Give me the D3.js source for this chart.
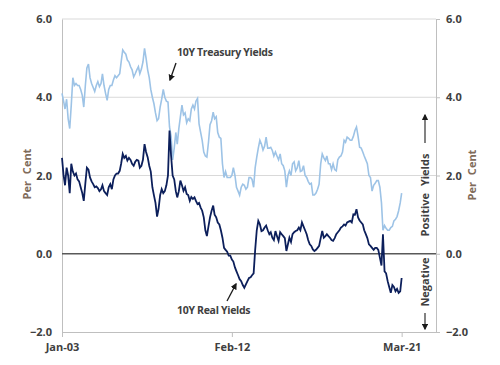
<!DOCTYPE html>
<html>
<head>
<meta charset="utf-8">
<script src="https://cdn.jsdelivr.net/npm/d3@7"></script>
<style>
  body { margin: 0; background: #fff; }
  text { font-family: "Open Sans", "DejaVu Sans", sans-serif; }
</style>
</head>
<body>
<div class="graph"></div>
<script>
// monthly readings, Jan 2003 .. Mar 2021
var startMonth = "2003-01";
var treasury = [
  4.1, 3.9, 3.7, 3.95, 3.45, 3.2, 3.8, 4.5, 4.3, 4.35, 4.3, 4.3,
  4.2, 4.05, 3.75, 4.3, 4.75, 4.85, 4.5, 4.35, 4.25, 4.15, 4.3, 4.4,
  4.27, 4.35, 4.6, 4.3, 4.1, 3.92, 4.2, 4.3, 4.3, 4.44, 4.55, 4.5,
  4.55, 4.6, 4.9, 5.21, 5.15, 5.1, 4.95, 4.9, 4.78, 4.7, 4.52, 4.6,
  4.7, 4.78, 4.6, 4.72, 4.9, 5.25, 5.0, 4.7, 4.5, 4.2, 4.0, 3.84,
  3.6, 3.4, 3.45, 3.75, 3.95, 4.2, 4.0, 3.9, 3.88, 3.24, 3.0, 2.4,
  2.7, 3.1, 2.8, 3.2, 3.5, 3.8, 3.55, 3.6, 3.35, 3.45, 3.4, 3.7,
  3.8, 3.7, 3.9, 3.97, 3.32, 3.1, 2.9, 2.6, 2.5, 2.47, 2.85, 3.3,
  3.4, 3.62, 3.45, 3.5, 3.1, 2.98, 2.95, 2.3, 1.95, 2.1, 1.95, 1.95,
  1.95, 2.0, 2.2, 2.0, 1.7, 1.6, 1.5, 1.7, 1.78, 1.75, 1.65, 1.7,
  1.95, 1.95, 1.9, 1.7, 2.2, 2.47, 2.7, 2.9, 2.8, 2.65, 2.75, 2.98,
  2.7, 2.7, 2.72, 2.64, 2.5, 2.6, 2.5, 2.4, 2.55, 2.3, 2.25, 2.12,
  1.7, 2.0, 2.12, 2.0, 2.3, 2.35, 2.12, 2.2, 2.38, 2.1, 2.12, 2.25,
  2.0, 1.95, 1.85, 1.78, 1.8, 1.5, 1.5, 1.55, 1.65, 1.78, 2.3, 2.55,
  2.45, 2.38, 2.5, 2.3, 2.3, 2.15, 2.3, 2.15, 2.12, 2.4, 2.47, 2.5,
  2.6, 2.9, 2.85, 2.98, 2.95, 2.9, 2.9, 3.0, 3.15, 3.24, 3.0, 2.72,
  2.7, 2.6, 2.5, 2.4, 2.3, 2.0, 1.95, 1.6, 1.75, 1.8, 1.87, 1.87,
  1.7, 1.3, 0.6, 0.72, 0.65, 0.6, 0.6, 0.67, 0.7, 0.84, 0.88, 0.95,
  1.1, 1.3, 1.55
];
var realYields = [
  2.45, 2.0, 1.75, 2.2, 2.0, 1.55, 2.3, 2.1, 2.0, 2.05, 1.9, 1.85,
  1.7, 1.55, 1.35, 1.8, 2.2, 2.15, 1.95, 1.85, 1.78, 1.7, 1.72, 1.68,
  1.6, 1.65, 1.75, 1.6, 1.55, 1.5, 1.7, 1.78, 1.65, 1.9, 2.0, 2.05,
  2.05, 2.12, 2.3, 2.55, 2.45, 2.5, 2.38, 2.45, 2.4, 2.3, 2.25, 2.35,
  2.4, 2.38, 2.2, 2.25, 2.4, 2.8, 2.6, 2.47, 2.25, 2.1, 1.7, 1.5,
  1.3, 0.95, 1.15, 1.5, 1.65, 1.55, 1.6, 1.75, 2.0, 3.15, 2.5, 2.0,
  1.9, 1.6, 1.44, 1.6, 1.87, 1.75, 1.61, 1.7, 1.53, 1.5, 1.35, 1.45,
  1.4, 1.44, 1.35, 1.27, 1.3, 1.18, 1.1, 0.93, 0.6, 0.45, 0.7, 0.93,
  1.1, 1.23, 1.0, 0.93, 0.8, 0.75, 0.6, 0.41, 0.15, 0.1, 0.05, -0.05,
  -0.05, -0.15, -0.2, -0.35, -0.45, -0.55, -0.65, -0.7, -0.8, -0.87, -0.78, -0.7,
  -0.62, -0.6, -0.55, -0.5, 0.1, 0.6, 0.84, 0.75, 0.58, 0.6, 0.67, 0.72,
  0.6, 0.5, 0.55, 0.41, 0.35, 0.58, 0.45, 0.33, 0.55, 0.5, 0.45, 0.4,
  0.07, 0.25, 0.41, 0.3, 0.5, 0.55, 0.58, 0.6, 0.67, 0.6, 0.8, 0.7,
  0.6, 0.5, 0.35, 0.24, 0.2, 0.11, 0.07, 0.1, 0.15, 0.2, 0.4, 0.58,
  0.41, 0.45, 0.5, 0.45, 0.41, 0.35, 0.33, 0.4, 0.5, 0.55, 0.6, 0.67,
  0.7, 0.75, 0.72, 0.8, 0.82, 0.84, 0.8, 1.01, 1.0, 1.14, 0.93, 0.85,
  0.8, 0.75, 0.6, 0.5, 0.4, 0.24, 0.2, 0.15, 0.1, 0.15, 0.15, 0.1,
  -0.1, -0.3, 0.5, -0.45, -0.5, -0.7, -0.85, -1.0, -0.8, -0.85, -0.96, -0.9,
  -1.0, -0.96, -0.62
];
var yTicks = [-2, 0, 2, 4, 6];
var xTicks = ["2003-01", "2012-02", "2021-03"];

var width = 500;
var height = 365;
var plotLeft = 62, plotRight = 436, plotTop = 19, plotBottom = 332;

var parseMonth = d3.timeParse("%Y-%m");
var start = parseMonth(startMonth);

var x = d3.scaleTime()
  .domain([start, new Date(2023, 0, 1)])
  .range([plotLeft, plotRight]);

var y = d3.scaleLinear()
  .domain([-2, 6])
  .range([plotBottom, plotTop]);

var svg = d3.select(".graph").append("svg")
  .attr("width", width)
  .attr("height", height);

// gridlines
svg.selectAll(".grid")
  .data(yTicks.filter(d => d > 0))
  .enter().append("line")
  .attr("x1", plotLeft).attr("x2", plotRight)
  .attr("y1", d => y(d)).attr("y2", d => y(d))
  .attr("stroke", "#d9d9d9")
  .attr("stroke-width", 1);

// left axis: labels only plus a plain line
var yAxisLeft = d3.axisLeft(y).tickValues(yTicks).tickFormat(d3.format(".1f")).tickSize(0).tickPadding(10);
var gl = svg.append("g").attr("transform", "translate(" + plotLeft + ",0)").call(yAxisLeft);
gl.select(".domain").attr("stroke", "#bfbfbf");

var yAxisRight = d3.axisRight(y).tickValues(yTicks).tickFormat(d3.format(".1f")).tickSizeInner(4).tickSizeOuter(0).tickPadding(6);
var gr = svg.append("g").attr("transform", "translate(" + plotRight + ",0)").call(yAxisRight);
gr.select(".domain").attr("stroke", "#bfbfbf");
gr.selectAll(".tick line").attr("stroke", "#bfbfbf");

var xAxis = d3.axisBottom(x)
  .tickValues(xTicks.map(parseMonth))
  .tickFormat(d3.timeFormat("%b-%y"))
  .tickSizeInner(5).tickSizeOuter(0).tickPadding(6);
var gx = svg.append("g").attr("transform", "translate(0," + plotBottom + ")").call(xAxis);
gx.select(".domain").attr("stroke", "#bfbfbf");
gx.selectAll(".tick line").attr("stroke", "#bfbfbf");

svg.selectAll(".tick text")
  .attr("fill", "#404040")
  .attr("font-size", "11px")
  .attr("font-weight", "bold")
  .style("font-family", "'Open Sans', sans-serif");

// zero line
svg.append("line")
  .attr("x1", plotLeft).attr("x2", plotRight)
  .attr("y1", y(0)).attr("y2", y(0))
  .attr("stroke", "#595959")
  .attr("stroke-width", 1.5);

var dates = treasury.map((d, i) => d3.timeMonth.offset(start, i));

var line = d3.line()
  .x((d, i) => x(dates[i]))
  .y(d => y(d));

svg.append("path")
  .datum(treasury)
  .attr("fill", "none")
  .attr("stroke", "#9dc3e6")
  .attr("stroke-width", 1.6)
  .attr("d", line);

svg.append("path")
  .datum(realYields)
  .attr("fill", "none")
  .attr("stroke", "#0c1f5b")
  .attr("stroke-width", 1.8)
  .attr("d", line);

// axis titles
function sideTitle(cx, cy, label, col) {
  svg.append("text")
    .attr("transform", "translate(" + cx + "," + cy + ") rotate(-90)")
    .attr("text-anchor", "middle")
    .attr("fill", col)
    .attr("font-size", "11px")
    .attr("font-weight", "bold")
    .style("word-spacing", "4px")
    .text(label);
}
sideTitle(31, 174, "Per Cent", "#7f6b5a");
sideTitle(476, 175, "Per Cent", "#7f6b5a");
sideTitle(429, 195, "Positive Yields", "#404040");
sideTitle(429, 282, "Negative", "#404040");

// arrow marker
svg.append("defs").append("marker")
  .attr("id", "head")
  .attr("viewBox", "0 0 10 10")
  .attr("refX", 8).attr("refY", 5)
  .attr("markerWidth", 5).attr("markerHeight", 5)
  .attr("orient", "auto")
  .append("path")
  .attr("d", "M0,0L10,5L0,10z")
  .attr("fill", "#1a1a1a");

function arrow(x1, y1, x2, y2, col) {
  svg.append("line")
    .attr("x1", x1).attr("y1", y1)
    .attr("x2", x2).attr("y2", y2)
    .attr("stroke", col)
    .attr("stroke-width", 1.3)
    .attr("marker-end", "url(#head)");
}
arrow(425, 143, 425, 115, "#404040");
arrow(425, 313, 425, 329, "#404040");
arrow(176, 63, 170, 80, "#1a1a1a");
arrow(227, 301, 236, 284, "#1a1a1a");

// series labels
svg.append("text")
  .attr("x", 177).attr("y", 56)
  .attr("fill", "#404040")
  .attr("font-size", "10.5px")
  .attr("font-weight", "bold")
  .attr("letter-spacing", "-0.3px")
  .text("10Y Treasury Yields");

svg.append("text")
  .attr("x", 177).attr("y", 314)
  .attr("fill", "#404040")
  .attr("font-size", "10.5px")
  .attr("font-weight", "bold")
  .attr("letter-spacing", "-0.3px")
  .text("10Y Real Yields");
</script>
</body>
</html>
